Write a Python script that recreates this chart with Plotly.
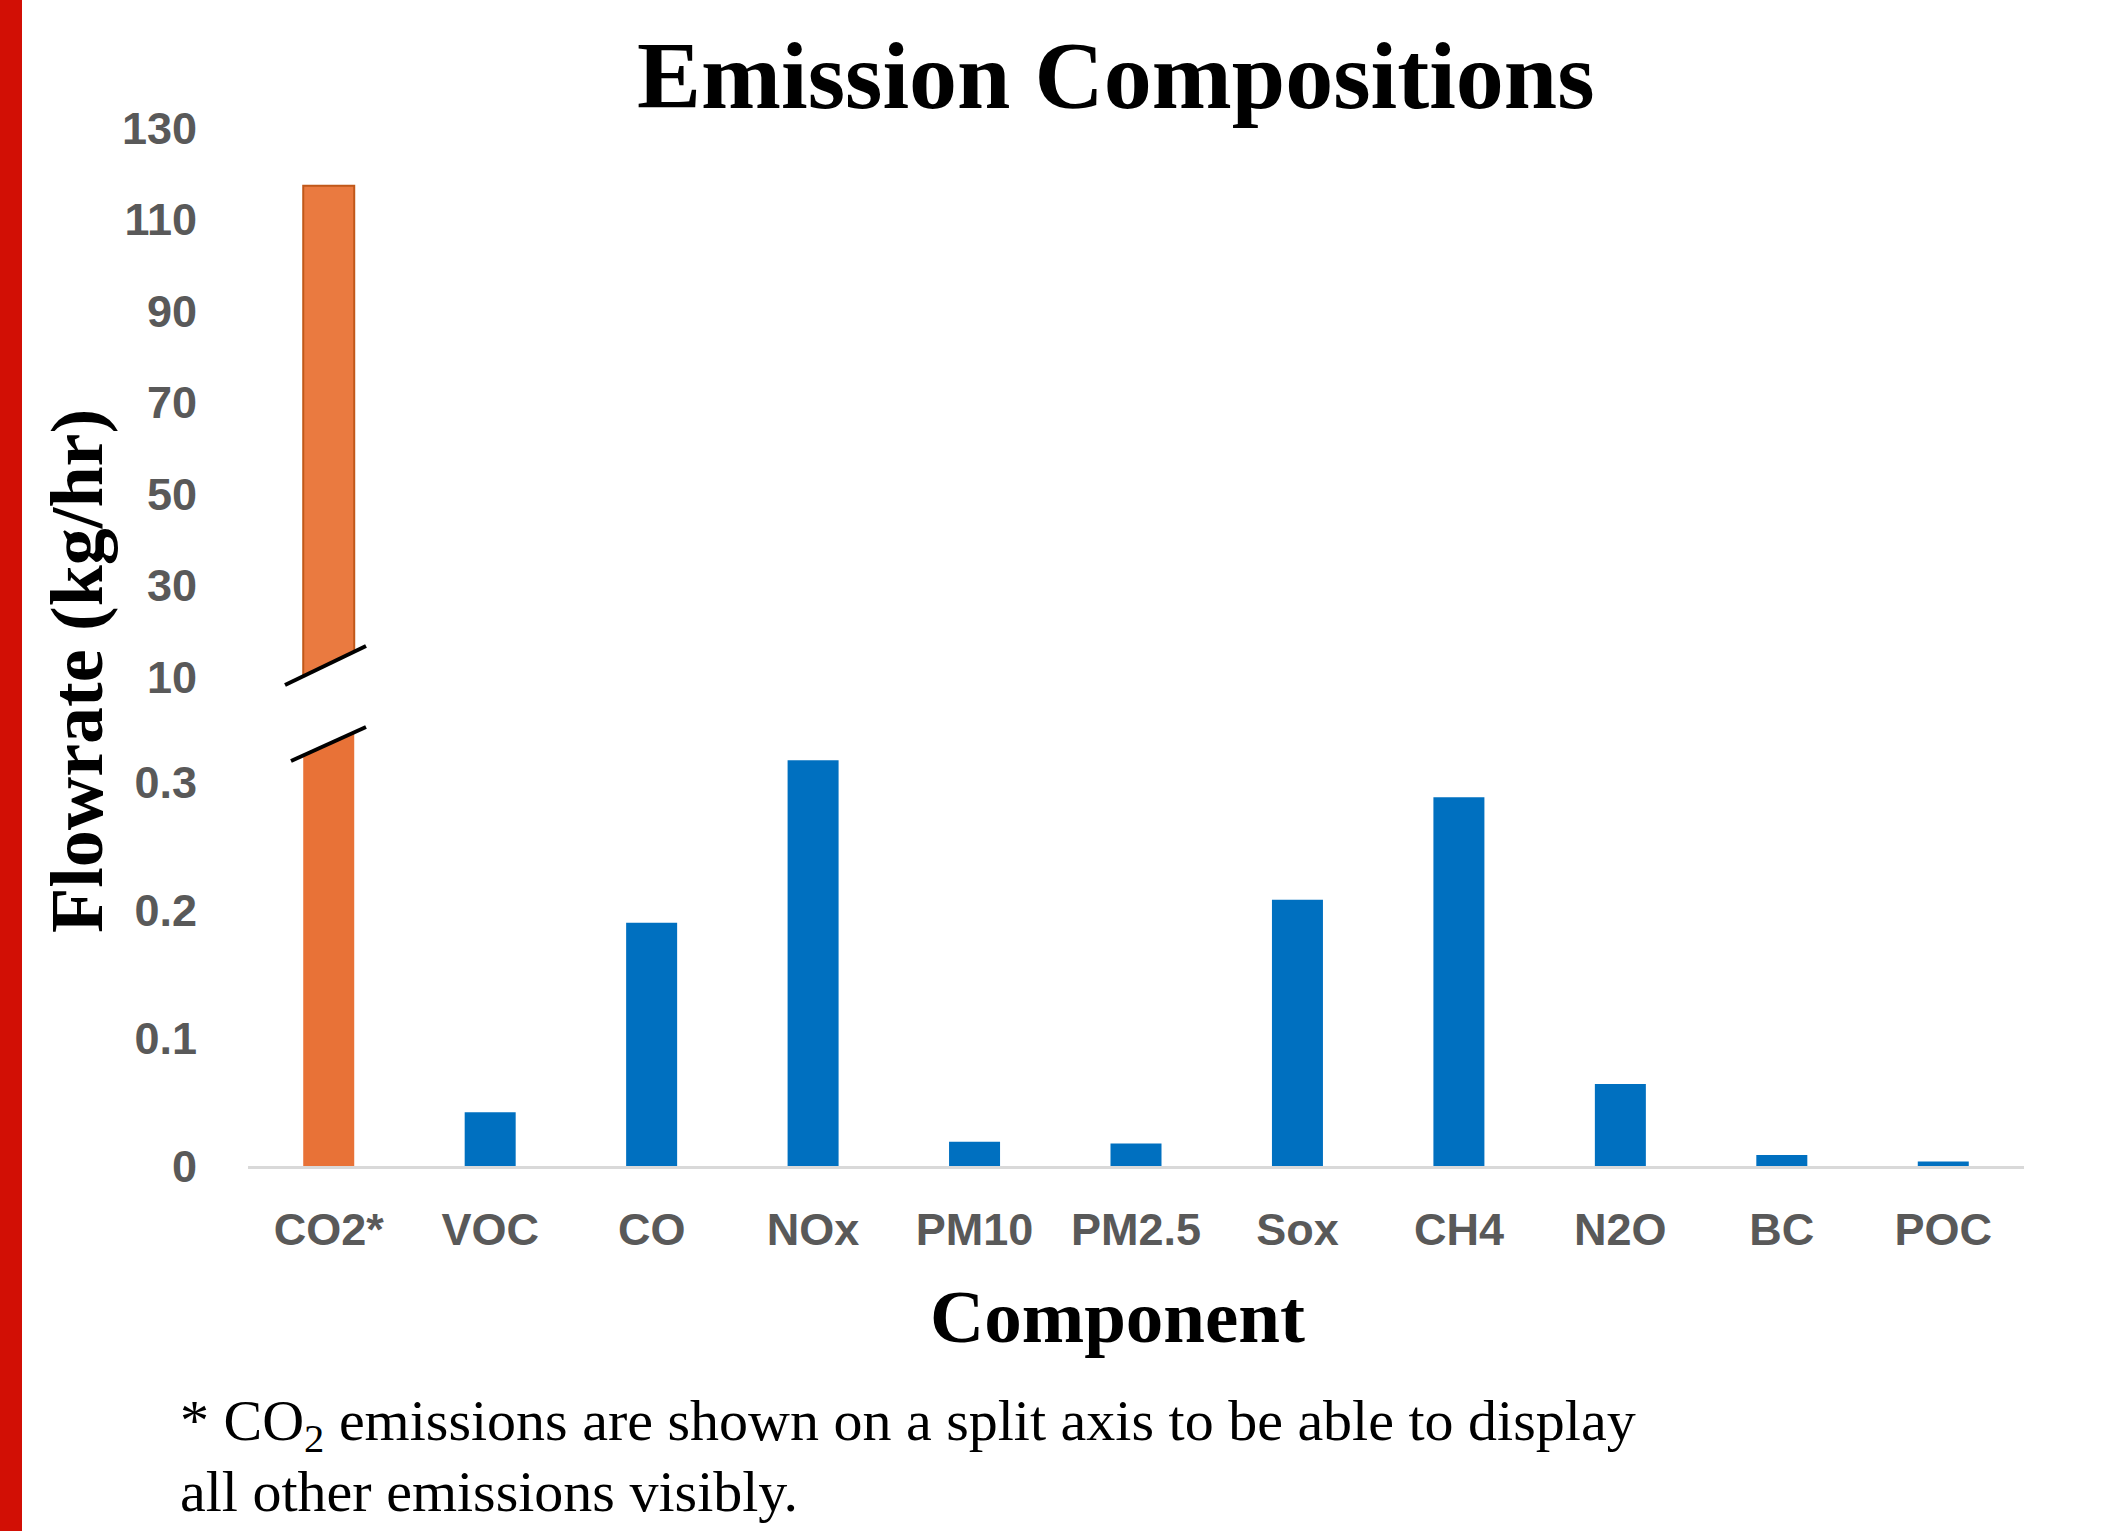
import plotly.graph_objects as go

# ---------------- data ----------------
categories = ["CO2*", "VOC", "CO", "NOx", "PM10", "PM2.5", "Sox", "CH4", "N2O", "BC", "POC"]
flowrate = [117.4, 0.042, 0.190, 0.317, 0.019, 0.0175, 0.208, 0.288, 0.064, 0.0085, 0.0035]
upper_tickvals = [10, 30, 50, 70, 90, 110, 130]
lower_tickvals = [0, 0.1, 0.2, 0.3]
lower_ticktext = ["0", "0.1", "0.2", "0.3"]

title_text = "Emission Compositions"
x_title = "Component"
y_title = "Flowrate (kg/hr)"
note_line1 = "* CO<sub>2</sub> emissions are shown on a split axis to be able to display"
note_line2 = "all other emissions visibly."

# ---------------- styling / geometry ----------------
W, H = 2104, 1531
ML, MR, MT, MB = 248, 80, 120, 365
PW = W - ML - MR
PH = H - MT - MB
CAT_W = PW / len(categories)

ORANGE_LOW = "#E87237"
ORANGE_UP = "#EA7A40"
BLUE = "#0070C0"
TICK_GRAY = "#595959"


def py(p):
    """pixel y -> paper y"""
    return (H - MB - p) / PH


def px(p):
    """pixel x -> paper x"""
    return (p - ML) / PW


def cx(p):
    """pixel x -> category coordinate"""
    return (p - ML) / CAT_W - 0.5


lower_top_px = 727
upper_bot_px = 685
lower_range = [0, (H - MB - lower_top_px) / 1280.0]
upper_range = [10 - (upper_bot_px - 677) / 4.575, 130 + (128 - MT) / 4.575]

colors_low = [ORANGE_LOW if c.startswith("CO2") else BLUE for c in categories]
colors_up = [ORANGE_UP if c.startswith("CO2") else BLUE for c in categories]
line_w_up = [2 if c.startswith("CO2") else 0 for c in categories]

bar_w = 51 / CAT_W

fig = go.Figure()
fig.add_trace(go.Bar(
    x=categories, y=flowrate, width=bar_w,
    marker=dict(color=colors_low, line=dict(width=0)),
    xaxis="x", yaxis="y", showlegend=False,
))
fig.add_trace(go.Bar(
    x=categories, y=flowrate, width=bar_w,
    marker=dict(color=colors_up, line=dict(width=line_w_up, color="#C0581A")),
    xaxis="x", yaxis="y2", showlegend=False,
))

tickfont = dict(family="Liberation Sans", size=45, color=TICK_GRAY, weight="bold")

fig.update_layout(
    width=W, height=H,
    margin=dict(l=ML, r=MR, t=MT, b=MB, pad=0),
    paper_bgcolor="white", plot_bgcolor="white",
    barmode="overlay",
    xaxis=dict(
        type="category", range=[-0.5, len(categories) - 0.5],
        showgrid=False, zeroline=False,
        showline=True, linecolor="#D9D9D9", linewidth=3,
        ticks="", tickfont=tickfont, ticklabelstandoff=22,
        anchor="y",
    ),
    yaxis=dict(
        domain=[0, py(lower_top_px)], range=lower_range,
        tickvals=lower_tickvals, ticktext=lower_ticktext,
        showgrid=False, zeroline=False, showline=False, ticks="",
        tickfont=tickfont, ticklabelstandoff=50, anchor="x",
    ),
    yaxis2=dict(
        domain=[py(upper_bot_px), 1], range=upper_range,
        tickvals=upper_tickvals,
        showgrid=False, zeroline=False, showline=False, ticks="",
        tickfont=tickfont, ticklabelstandoff=50, anchor="x",
    ),
)

serif = "Liberation Serif"
annotations = [
    dict(text=f"<b>{title_text}</b>", x=px(1116), y=py(76), xref="paper", yref="paper",
         xanchor="center", yanchor="middle", showarrow=False,
         font=dict(family=serif, size=96, color="black")),
    dict(text=f"<b>{x_title}</b>", x=px(1117), y=py(1316), xref="paper", yref="paper",
         xanchor="center", yanchor="middle", showarrow=False,
         font=dict(family=serif, size=75, color="black")),
    dict(text=f"<b>{y_title}</b>", x=px(77), y=py(671), xref="paper", yref="paper",
         xanchor="center", yanchor="middle", showarrow=False, textangle=-90,
         font=dict(family=serif, size=74, color="black")),
    dict(text=note_line1, x=px(178), y=py(1424), xref="paper", yref="paper",
         xanchor="left", yanchor="middle", showarrow=False, align="left",
         font=dict(family=serif, size=58, color="black")),
    dict(text=note_line2, x=px(178), y=py(1491), xref="paper", yref="paper",
         xanchor="left", yanchor="middle", showarrow=False, align="left",
         font=dict(family=serif, size=58, color="black")),
]
fig.update_layout(annotations=annotations)

# axis-break decorations on the CO2* bar
ul = (cx(285), py(685)); ur = (cx(366), py(646))
ll = (cx(291), py(761)); lr = (cx(366), py(727))
shapes = [
    dict(type="path", xref="x", yref="paper", layer="above",
         path=f"M {ul[0]},{ul[1]} L {ur[0]},{ur[1]} L {lr[0]},{lr[1]} L {ll[0]},{ll[1]} Z",
         fillcolor="white", line=dict(width=0)),
    dict(type="line", xref="x", yref="paper", layer="above",
         x0=ul[0], y0=ul[1], x1=ur[0], y1=ur[1], line=dict(color="black", width=4)),
    dict(type="line", xref="x", yref="paper", layer="above",
         x0=ll[0], y0=ll[1], x1=lr[0], y1=lr[1], line=dict(color="black", width=4)),
    # red accent stripe at the left edge of the slide
    dict(type="rect", xref="paper", yref="paper", layer="above",
         x0=px(0), x1=px(22), y0=py(H), y1=py(0),
         fillcolor="#D20F05", line=dict(width=0)),
]
fig.update_layout(shapes=shapes)

fig.write_html(
    "out.html",
    config={"displayModeBar": False},
    post_script="document.body.style.margin='0';document.body.style.overflow='hidden';",
)
